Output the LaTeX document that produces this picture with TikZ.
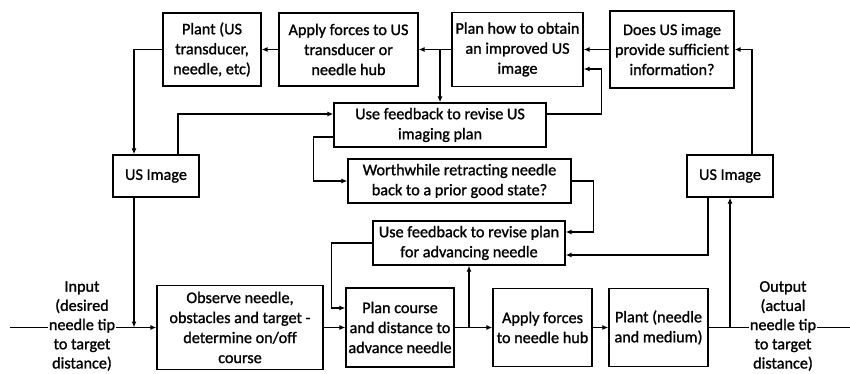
\documentclass[tikz,border=0pt]{standalone}
\usepackage{fontspec}
\setmainfont{Carlito}
\newfontfamily\boxfont{Carlito}[FakeBold=1.2]
\usepackage{tikz}
\usetikzlibrary{positioning}
\usetikzlibrary{arrows.meta}

\tikzset{
	blk/.style={draw, line width=1.3pt, align=center, inner sep=1pt, font=\boxfont\fontsize{16.2}{20}\selectfont},
	arr/.style={line width=1.5pt, -{Latex[length=6pt,width=5pt]}},
	ln/.style={line width=1.5pt},
	io/.style={align=center, fill=white, inner sep=0.5pt, font=\boxfont\fontsize{16.2}{19.2}\selectfont}
}

\begin{document}
\begin{tikzpicture}[x=1pt, y=-1pt]
		\useasboundingbox (0,0) rectangle (850,374);

		% Imaging loop (top)
		\node[blk, minimum width=98, minimum height=73] (plantus) at (212,49.5) {Plant (US\\transducer,\\needle, etc)};
		\node[blk, minimum width=139, minimum height=73] (applyus) at (348.5,49.5) {Apply forces to US\\transducer or\\needle hub};
		\node[blk, minimum width=131, minimum height=74] (planimg) at (517.5,49.5) {Plan how to obtain\\an improved US\\image};
		\node[blk, minimum width=124, minimum height=77] (doesimg) at (672,49.5) {Does US image\\provide sufficient\\information?};
		\node[blk, minimum width=86, minimum height=42] (usimgL) at (156,176) {US Image};
		\node[blk, minimum width=86, minimum height=42] (usimgR) at (730,176) {US Image};

		% Feedback boxes (middle)
		\node[blk, minimum width=212, minimum height=44] (fbimg) at (440,125) {Use feedback to revise US\\imaging plan};
		\node[blk, minimum width=223, minimum height=44] (retract) at (459.5,181) {Worthwhile retracting needle\\back to a prior good state?};
		\node[blk, minimum width=192, minimum height=44] (fbplan) at (469,243) {Use feedback to revise plan\\for advancing needle};

		% Needle loop (bottom)
		\node[blk, minimum width=166, minimum height=84] (observe) at (240,327.5) {Observe needle,\\obstacles and target -\\determine on/off\\course};
		\node[blk, minimum width=108, minimum height=79] (plancourse) at (400,327.5) {Plan course\\and distance to\\advance needle};
		\node[blk, minimum width=99, minimum height=78] (applyhub) at (542.5,327.5) {Apply forces\\to needle hub};
		\node[blk, minimum width=99, minimum height=78] (plantneedle) at (658.5,327.5) {Plant (needle\\and medium)};

		% Input and output lines
		\coordinate (inStart) at (10,327.5);
		\coordinate (outEnd) at (850,327.5);
		\draw[arr] (inStart) -- (observe.west);
		\draw[ln] (plantneedle.east) -- (outEnd);
		\node[io] (input) at (82,326) {Input\\(desired\\needle tip\\to target\\distance)};
		\node[io] (output) at (783,326) {Output\\(actual\\needle tip\\to target\\distance)};

		% Straight arrows
		\foreach \a/\b in {doesimg/planimg, planimg/applyus, applyus/plantus, observe/plancourse, plancourse/applyhub, applyhub/plantneedle} {
				\draw[arr] (\a) -- (\b);
			}

		% Branches and loops
		\coordinate (usL) at ([xshift=-22pt]usimgL.south);
		\coordinate (usR) at ([xshift=-22pt]usimgR.south);
		\draw[arr] (plantus.west) -| ([xshift=-22pt]usimgL.north);
		\draw[arr] (usL) -- (usL |- observe.west);
		\draw[arr] ([xshift=22pt]usimgL.north) |- ([yshift=11pt]fbimg.west);
		\draw[arr] (fbimg.north |- planimg.west) -- (fbimg.north);
		\draw[arr] ([yshift=11pt]fbimg.east) -- ++(55,0) |- ([yshift=-19.5pt]planimg.east);
		\draw[arr] ([yshift=-12pt]fbimg.west) -- ++(-20,0) |- (retract.west);
		\draw[arr] (retract.east) -- ++(22,0) |- ([yshift=11pt]fbplan.east);
		\draw[arr] (usR) |- ([yshift=-12pt]fbplan.east);
		\draw[arr] (usimgR.south |- plantneedle.east) -- (usimgR.south);
		\draw[arr] ([xshift=22pt]usimgR.north) |- (doesimg.east);
		\draw[arr] (fbplan.south |- plancourse.east) -- (fbplan.south);
		\draw[arr] (fbplan.west) -- ++(-41,0) |- ([yshift=19.5pt]plancourse.west);
	\end{tikzpicture}
\end{document}
